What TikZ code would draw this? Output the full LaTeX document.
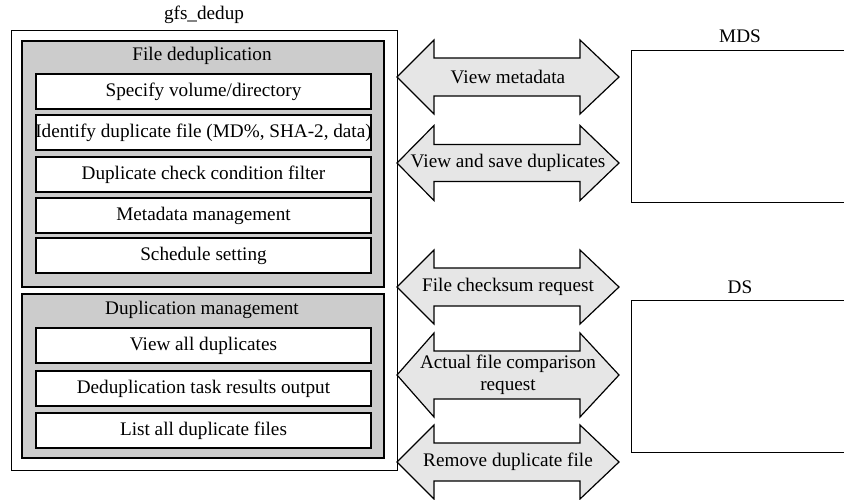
\documentclass[tikz,border=0pt]{standalone}
\usepackage{fontspec}
\setmainfont{Liberation Serif}
\definecolor{boxgray}{HTML}{CCCCCC}
\definecolor{arrgray}{HTML}{E6E6E6}
\newcommand{\fsz}{\fontsize{19.2}{21.5}\selectfont}
\tikzset{
  outerbox/.style={draw=black, line width=1.3pt, fill=white, anchor=north west, inner sep=0pt},
  graybox/.style={draw=black, line width=1.8pt, fill=boxgray, anchor=north west, inner sep=0pt},
  itembox/.style={draw=black, line width=1.5pt, fill=white, anchor=center, minimum width=335pt, minimum height=35pt, inner sep=0pt, font=\fsz},
  serverbox/.style={draw=black, line width=1.4pt, fill=white, anchor=north west, minimum width=260pt, minimum height=152pt, inner sep=0pt},
  lbl/.style={font=\fsz, inner sep=0pt},
  arrowshape/.style={draw=black, line width=1.2pt, fill=arrgray, line join=miter},
}
\newcommand{\dblarrow}[5]{%
  % #1 name, #2 cy, #3 shaft half, #4 head half, #5 text
  \draw[arrowshape] (397,#2) -- (434,#2-#4) -- (434,#2-#3) -- (580,#2-#3) -- (580,#2-#4)
     -- (619,#2) -- (580,#2+#4) -- (580,#2+#3) -- (434,#2+#3) -- (434,#2+#4) -- cycle;
  \node[lbl, align=center] (#1) at (508,#2) {#5};
}
\begin{document}
\begin{tikzpicture}[x=1pt, y=-1pt]
\useasboundingbox (0,0) rectangle (844,499);
\clip (0,0) rectangle (844,499);
% outer
\node[lbl] (title) at (204,15) {gfs\_dedup};
\node[outerbox, minimum width=386pt, minimum height=440pt] (outer) at (11,30) {};
% group 1
\node[graybox, minimum width=362pt, minimum height=246pt] (g1) at (21,40) {};
\node[lbl] (g1t) at (202,56) {File deduplication};
\node[itembox] (a1) at (203.5,91.5) {Specify volume/directory};
\node[itembox] (a2) at (203.5,132.5) {\makebox[333pt][c]{Identify duplicate file (MD\%, SHA-2, data)}};
\node[itembox] (a3) at (203.5,174.5) {Duplicate check condition filter};
\node[itembox] (a4) at (203.5,215.5) {Metadata management};
\node[itembox] (a5) at (203.5,255.5) {Schedule setting};
% group 2
\node[graybox, minimum width=362pt, minimum height=164pt] (g2) at (21,293) {};
\node[lbl] (g2t) at (202,310) {Duplication management};
\node[itembox] (b1) at (203.5,345.5) {View all duplicates};
\node[itembox] (b2) at (203.5,388.5) {Deduplication task results output};
\node[itembox] (b3) at (203.5,430.5) {List all duplicate files};
% servers
\node[lbl] (mdst) at (740,36) {MDS};
\node[serverbox] (mds) at (631,50) {};
\node[lbl] (dst) at (740,287) {DS};
\node[serverbox] (ds) at (631,300) {};
% arrows
\dblarrow{r1}{77}{19}{37}{View metadata}
\dblarrow{r2}{163}{18.5}{37.5}{View and save duplicates}
\dblarrow{r3}{287}{19}{37}{File checksum request}
\dblarrow{r4}{375}{24}{42}{Actual file comparison\\request}
\dblarrow{r5}{462}{19}{37}{Remove duplicate file}
\end{tikzpicture}
\end{document}
